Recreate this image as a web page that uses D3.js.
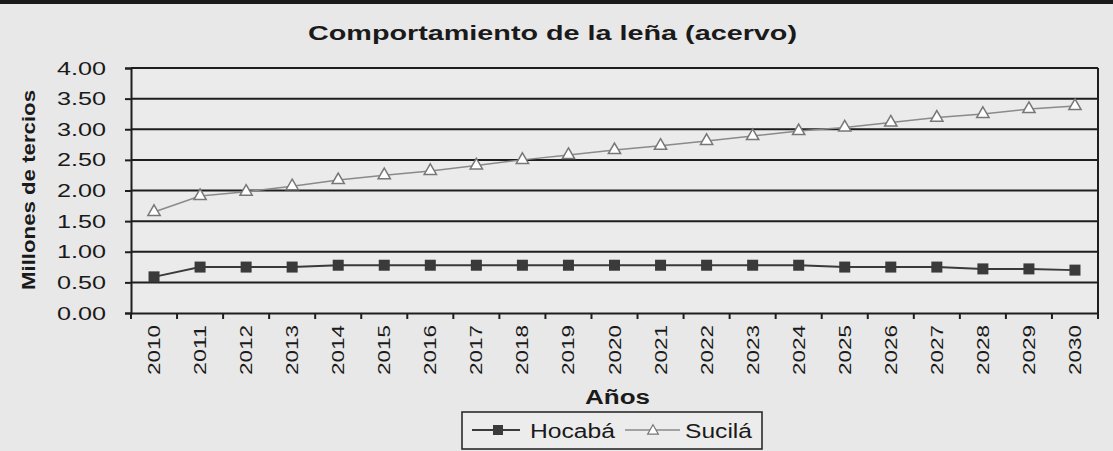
<!DOCTYPE html>
<html>
<head>
<meta charset="utf-8">
<script src="https://cdn.jsdelivr.net/npm/d3@7"></script>
<style>
  html, body { margin: 0; padding: 0; background: #e8e8e8; }
  svg { display: block; }
</style>
</head>
<body>
<svg id="chart" width="1113" height="451"></svg>
<script>
const years = ["2010","2011","2012","2013","2014","2015","2016","2017","2018","2019","2020",
               "2021","2022","2023","2024","2025","2026","2027","2028","2029","2030"];
const hocaba = [0.59,0.75,0.75,0.75,0.78,0.78,0.78,0.78,0.78,0.78,0.78,
                0.78,0.78,0.78,0.78,0.75,0.75,0.75,0.72,0.72,0.70];
const sucila = [1.65,1.91,1.98,2.07,2.17,2.25,2.32,2.41,2.50,2.58,2.66,
                2.73,2.81,2.89,2.97,3.03,3.11,3.19,3.25,3.33,3.38];
const yTicks = [0,0.5,1,1.5,2,2.5,3,3.5,4];
const seriesNames = ["Hocabá","Sucilá"];
const titleText = "Comportamiento de la leña (acervo)";
const yLabel = "Millones de tercios";
const xLabel = "Años";

const FONT = "Liberation Sans, Arial, sans-serif";
const svg = d3.select("#chart");
const W = 1113, H = 451;
const m = {left: 131, right: 1098, top: 68, bottom: 313};

svg.append("rect").attr("width", W).attr("height", H).attr("fill", "#e8e8e8");
svg.append("rect").attr("width", W).attr("height", 4).attr("fill", "#1a1a1a");

const x = d3.scaleBand().domain(years).range([m.left, m.right]).padding(0);
const y = d3.scaleLinear().domain([0, 4]).range([m.bottom, m.top]);
const cx = d => x(d) + x.bandwidth() / 2;

// plot area
svg.append("rect").attr("x", m.left).attr("y", m.top)
  .attr("width", m.right - m.left).attr("height", m.bottom - m.top)
  .attr("fill", "#ebebeb");

// gridlines
svg.append("g").selectAll("line").data(yTicks.filter(t => t > 0)).join("line")
  .attr("x1", m.left).attr("x2", m.right)
  .attr("y1", d => y(d)).attr("y2", d => y(d))
  .attr("stroke", "#1e1e1e").attr("stroke-width", 2);

// right border
svg.append("line").attr("x1", m.right).attr("x2", m.right)
  .attr("y1", m.top).attr("y2", m.bottom).attr("stroke", "#1e1e1e").attr("stroke-width", 2);

// y axis
const yAxis = svg.append("g").attr("transform", `translate(${m.left},0)`)
  .call(d3.axisLeft(y).tickValues(yTicks).tickFormat(d3.format(".2f")).tickSize(6).tickPadding(19));
yAxis.select(".domain").attr("stroke", "#1e1e1e").attr("stroke-width", 2);
yAxis.selectAll(".tick line").attr("stroke", "#1e1e1e").attr("stroke-width", 2);
yAxis.selectAll("text").attr("font-family", FONT)
  .attr("font-size", 19).attr("fill", "#1a1a1a")
  .attr("textLength", 49).attr("lengthAdjust", "spacingAndGlyphs");

// x axis
const xAxis = svg.append("g").attr("transform", `translate(0,${m.bottom})`)
  .call(d3.axisBottom(x).tickSize(0).tickFormat(""));
xAxis.select(".domain").attr("stroke", "#1e1e1e").attr("stroke-width", 2);
svg.append("g").selectAll("line").data(years.concat(["end"])).join("line")
  .attr("x1", (d, i) => m.left + i * x.bandwidth())
  .attr("x2", (d, i) => m.left + i * x.bandwidth())
  .attr("y1", m.bottom).attr("y2", m.bottom + 6)
  .attr("stroke", "#1e1e1e").attr("stroke-width", 2);
svg.append("g").selectAll("text").data(years).join("text")
  .attr("transform", d => `translate(${cx(d) + 6},${m.bottom + 12}) rotate(-90)`)
  .attr("text-anchor", "end")
  .attr("font-family", FONT)
  .attr("font-size", 17).attr("fill", "#1a1a1a")
  .attr("textLength", 50).attr("lengthAdjust", "spacingAndGlyphs")
  .text(d => d);

// lines
const line = vals => d3.line().x((d, i) => cx(years[i])).y(d => y(d))(vals);
svg.append("path").attr("d", line(sucila)).attr("fill", "none")
  .attr("stroke", "#8a8a8a").attr("stroke-width", 1.5);
svg.append("path").attr("d", line(hocaba)).attr("fill", "none")
  .attr("stroke", "#3a3a3a").attr("stroke-width", 2);

const tri = d3.symbol().type(d3.symbolTriangle).size(65);
svg.append("g").selectAll("path").data(sucila).join("path")
  .attr("d", tri)
  .attr("transform", (d, i) => `translate(${cx(years[i])},${y(d)})`)
  .attr("fill", "#ffffff").attr("stroke", "#777").attr("stroke-width", 1.5);
svg.append("g").selectAll("rect").data(hocaba).join("rect")
  .attr("x", (d, i) => cx(years[i]) - 5.5).attr("y", d => y(d) - 5.5)
  .attr("width", 11).attr("height", 11).attr("fill", "#3a3a3a");

// title
svg.append("text").attr("x", 308).attr("y", 40)
  .attr("font-family", FONT).attr("font-weight", "bold")
  .attr("font-size", 21).attr("fill", "#1a1a1a")
  .attr("textLength", 489).attr("lengthAdjust", "spacingAndGlyphs").text(titleText);

// y label
svg.append("text").attr("transform", "translate(35,290) rotate(-90)")
  .attr("font-family", FONT).attr("font-weight", "bold")
  .attr("font-size", 19).attr("fill", "#1a1a1a")
  .attr("textLength", 200).attr("lengthAdjust", "spacingAndGlyphs").text(yLabel);

// x label
svg.append("text").attr("x", 585).attr("y", 404)
  .attr("font-family", FONT).attr("font-weight", "bold")
  .attr("font-size", 20).attr("fill", "#1a1a1a")
  .attr("textLength", 65).attr("lengthAdjust", "spacingAndGlyphs").text(xLabel);

// legend
const lg = svg.append("g");
lg.append("rect").attr("x", 462).attr("y", 412).attr("width", 300).attr("height", 37)
  .attr("fill", "#ececec").attr("stroke", "#1e1e1e").attr("stroke-width", 1.5);
lg.append("line").attr("x1", 472).attr("x2", 520).attr("y1", 430).attr("y2", 430)
  .attr("stroke", "#3a3a3a").attr("stroke-width", 2);
lg.append("rect").attr("x", 493).attr("y", 425).attr("width", 10).attr("height", 10).attr("fill", "#3a3a3a");
lg.append("text").attr("x", 530).attr("y", 438)
  .attr("font-family", FONT).attr("font-size", 20).attr("fill", "#1a1a1a")
  .attr("textLength", 85).attr("lengthAdjust", "spacingAndGlyphs").text(seriesNames[0]);
lg.append("line").attr("x1", 625).attr("x2", 680).attr("y1", 430).attr("y2", 430)
  .attr("stroke", "#8a8a8a").attr("stroke-width", 1.5);
lg.append("path").attr("d", d3.symbol().type(d3.symbolTriangle).size(50))
  .attr("transform", "translate(653,431)")
  .attr("fill", "#ffffff").attr("stroke", "#777").attr("stroke-width", 1.2);
lg.append("text").attr("x", 685).attr("y", 438)
  .attr("font-family", FONT).attr("font-size", 20).attr("fill", "#1a1a1a")
  .attr("textLength", 67).attr("lengthAdjust", "spacingAndGlyphs").text(seriesNames[1]);
</script>
</body>
</html>
